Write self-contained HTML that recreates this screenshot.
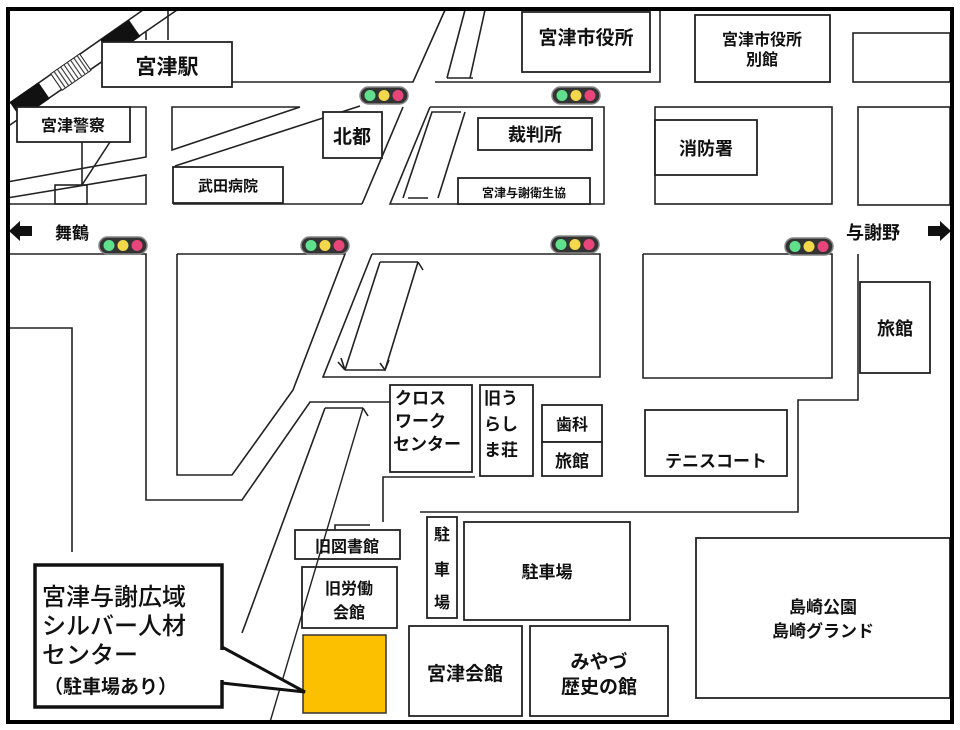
<!DOCTYPE html>
<html><head><meta charset="utf-8"><style>
html,body{margin:0;padding:0;background:#fff}
svg{display:block}
text{font-family:"Liberation Sans","Noto Sans CJK JP",sans-serif;font-weight:bold;fill:#111}
</style></head><body>
<svg width="960" height="730" viewBox="0 0 960 730" xmlns="http://www.w3.org/2000/svg">
<defs>
<g id="tl">
<rect x="0" y="0" width="48" height="17" rx="8.5" fill="#333" stroke="#888" stroke-width="1.5"/>
<circle cx="10" cy="8.5" r="5.5" fill="#5fe08d"/>
<circle cx="24" cy="8.5" r="5.5" fill="#f2d84a"/>
<circle cx="38" cy="8.5" r="5.5" fill="#e8457a"/>
</g>
</defs>
<g fill="none" stroke="#222" stroke-width="1.6">
<line x1="7" y1="105" x2="143" y2="10"/>
<line x1="7" y1="127" x2="177" y2="10"/>
<line x1="168" y1="10" x2="168" y2="40"/>
<line x1="146" y1="32" x2="146" y2="40"/>
<polyline points="232,82 413,82 445,10"/>
<polyline points="130,107 146,107 146,157 7,182"/>
<polyline points="7,198 146,175 146,204 7,204"/>
<rect x="55" y="185" width="32" height="19"/>
<line x1="82" y1="142" x2="82" y2="185"/>
<line x1="110" y1="142" x2="82" y2="185"/>
<polygon points="172,107 300,107 172,150"/>
<line x1="175" y1="166" x2="323" y2="118"/>
<line x1="323" y1="118" x2="360" y2="106"/>
<line x1="403" y1="107" x2="362" y2="204"/>
<line x1="173" y1="204" x2="362" y2="204"/>
<polyline points="447,78 465,10"/>
<polyline points="470,78 485,10"/>
<line x1="447" y1="78" x2="473" y2="78"/>
<polyline points="435,82 660,82 660,10"/>
<polyline points="430,107 604,107 604,204 390,204 430,107"/>
<polyline points="403,198 432,112 446,112 461,112"/>
<line x1="408" y1="198" x2="428" y2="198"/>
<line x1="438" y1="198" x2="465" y2="112"/>
<rect x="655" y="107" width="177" height="97"/>
<rect x="858" y="107" width="92" height="98"/>
<rect x="853" y="33" width="97" height="49"/>
<polyline points="7,254 146,254 146,500 242,500 310,402 390,402"/>
<polyline points="7,328 72,328 72,552"/>
<polyline points="177,254 345,254 293,390 232,475 177,475 177,254"/>
<polyline points="372,254 600,254 600,377 323,377 372,254"/>
<line x1="345" y1="370" x2="380" y2="262"/>
<line x1="385" y1="370" x2="418" y2="262"/>
<line x1="380" y1="262" x2="418" y2="262"/>
<line x1="345" y1="370" x2="385" y2="370"/>
<polyline points="338,362 345,370 341,358"/>
<polyline points="380,363 385,370 389,360"/>
<polyline points="418,262 423,270"/>
<line x1="325" y1="408" x2="363" y2="408"/>
<line x1="325" y1="408" x2="242" y2="633"/>
<polyline points="363,408 368,416"/>
<polyline points="383,522 383,477 475,477"/>
<polyline points="643,254 832,254 832,378 643,378 643,254"/>
<polyline points="858,254 858,400 798,400 798,512 420,512"/>
<polyline points="335,535 335,525 370,525"/>
</g>
<g transform="translate(7,116) rotate(-34.5)">
<rect x="10" y="-10" width="35" height="20" fill="#111"/>
<rect x="60" y="-10" width="35" height="20" fill="#fff" stroke="#222"/>
<g stroke="#444" stroke-width="1.2">
<line x1="64" y1="-10" x2="64" y2="10"/><line x1="68" y1="-10" x2="68" y2="10"/><line x1="72" y1="-10" x2="72" y2="10"/><line x1="76" y1="-10" x2="76" y2="10"/><line x1="80" y1="-10" x2="80" y2="10"/><line x1="84" y1="-10" x2="84" y2="10"/><line x1="88" y1="-10" x2="88" y2="10"/><line x1="92" y1="-10" x2="92" y2="10"/>
</g>
<rect x="120" y="-10" width="35" height="20" fill="#111"/>
</g>
<g fill="#fff" stroke="#222" stroke-width="1.8">
<rect x="102" y="42" width="130" height="45"/>
<rect x="17" y="107" width="113" height="35"/>
<rect x="323" y="112" width="59" height="46"/>
<rect x="173" y="167" width="110" height="36"/>
<rect x="522" y="12" width="128" height="60"/>
<rect x="695" y="15" width="135" height="67"/>
<rect x="478" y="118" width="114" height="32"/>
<rect x="458" y="178" width="132" height="26"/>
<rect x="655" y="120" width="102" height="55"/>
<rect x="860" y="282" width="70" height="91"/>
<rect x="390" y="385" width="82" height="87"/>
<rect x="480" y="385" width="53" height="91"/>
<rect x="542" y="405" width="60" height="37"/>
<rect x="542" y="442" width="60" height="34"/>
<rect x="645" y="410" width="142" height="66"/>
<rect x="295" y="530" width="105" height="29"/>
<rect x="302" y="567" width="95" height="61"/>
<rect x="427" y="517" width="30" height="101"/>
<rect x="464" y="522" width="166" height="98"/>
<rect x="409" y="626" width="113" height="90"/>
<rect x="530" y="626" width="138" height="90"/>
<rect x="696" y="538" width="254" height="160"/>
</g>
<rect x="303" y="635" width="83" height="78" fill="#fdc000" stroke="#333" stroke-width="1.5"/>
<line x1="363" y1="408" x2="270" y2="722" stroke="#222" stroke-width="1.4"/>
<polygon points="222,647 305,692 222,683" fill="#fff" stroke="#111" stroke-width="3"/>
<rect x="35" y="565" width="187" height="142" fill="#fff" stroke="#111" stroke-width="3.5"/>
<rect x="219" y="650" width="6" height="30" fill="#fff"/>
<use href="#tl" x="360" y="87"/>
<use href="#tl" x="552" y="87"/>
<use href="#tl" x="99" y="237"/>
<use href="#tl" x="301" y="237"/>
<use href="#tl" x="551" y="236"/>
<use href="#tl" x="785" y="238"/>
<polygon points="9,231 20,221 20,226 32,226 32,236 20,236 20,241" fill="#111"/>
<polygon points="951,231 940,221 940,226 928,226 928,236 940,236 940,241" fill="#111"/>
<g text-anchor="middle">
<text x="167" y="74" font-size="21">宮津駅</text>
<text x="73" y="131" font-size="16">宮津警察</text>
<text x="352" y="143" font-size="19">北都</text>
<text x="228" y="191" font-size="15">武田病院</text>
<text x="586" y="44" font-size="19">宮津市役所</text>
<text x="762" y="45" font-size="16">宮津市役所</text>
<text x="762" y="65" font-size="16">別館</text>
<text x="535" y="141" font-size="18">裁判所</text>
<text x="524" y="197" font-size="12">宮津与謝衛生協</text>
<text x="706" y="155" font-size="18">消防署</text>
<text x="72" y="239" font-size="17">舞鶴</text>
<text x="873" y="239" font-size="18">与謝野</text>
<text x="895" y="335" font-size="18">旅館</text>
<text x="572" y="430" font-size="16">歯科</text>
<text x="572" y="467" font-size="17">旅館</text>
<text x="716" y="467" font-size="17">テニスコート</text>
<text x="347" y="552" font-size="16">旧図書館</text>
<text x="349" y="594" font-size="16">旧労働</text>
<text x="349" y="618" font-size="16">会館</text>
<text x="442" y="540" font-size="16">駐</text>
<text x="442" y="575" font-size="16">車</text>
<text x="442" y="608" font-size="16">場</text>
<text x="547" y="578" font-size="17">駐車場</text>
<text x="465" y="680" font-size="19">宮津会館</text>
<text x="599" y="668" font-size="19">みやづ</text>
<text x="599" y="693" font-size="19">歴史の館</text>
<text x="823" y="613" font-size="17">島崎公園</text>
<text x="823" y="637" font-size="17">島崎グランド</text>
</g>
<g font-size="17">
<text x="395" y="404">クロス</text>
<text x="395" y="427">ワーク</text>
<text x="393" y="450">センター</text>
<text x="484" y="404">旧う</text>
<text x="484" y="430">らし</text>
<text x="484" y="456">ま荘</text>
</g>
<g font-size="24">
<text x="42" y="605" style="font-weight:500">宮津与謝広域</text>
<text x="42" y="634" style="font-weight:500">シルバー人材</text>
<text x="42" y="663" style="font-weight:500">センター</text>
</g>
<text x="44" y="693" font-size="19">（駐車場あり）</text>
<rect x="8" y="9" width="944" height="713" fill="none" stroke="#000" stroke-width="4"/>
</svg>
</body></html>
